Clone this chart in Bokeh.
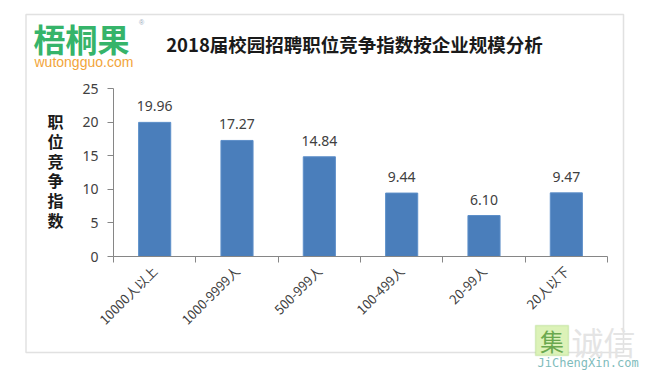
import math
from bokeh.plotting import figure
from bokeh.models import (ColumnDataSource, Range1d, FixedTicker, LinearAxis,
                          Label, LabelSet, BoxAnnotation)
from bokeh.core.properties import value
from bokeh.embed import file_html
from bokeh.resources import INLINE

categories = ["10000人以上", "1000-9999人", "500-999人", "100-499人", "20-99人", "20人以下"]
values = [19.96, 17.27, 14.84, 9.44, 6.10, 9.47]
value_labels = ["19.96", "17.27", "14.84", "9.44", "6.10", "9.47"]
y_ticks = [0, 5, 10, 15, 20, 25]
title_text = "2018届校园招聘职位竞争指数按企业规模分析"
y_title = "职位竞争指数"

W, H = 650, 371
n = len(categories)
centers = [i + 0.5 for i in range(n)]
bounds = [float(i) for i in range(n + 1)]

# pixel geometry of the plotting area inside the canvas
ax_left, ax_right = 113.0, 607.0     # x of category 0 / n boundaries
ax_top, ax_bottom = 88.0, 256.0      # y of value 25 / 0
xs = (ax_right - ax_left) / n
ys = (ax_bottom - ax_top) / 25.0
x_rng = Range1d(-ax_left / xs, n + (W - ax_right) / xs)
y_rng = Range1d(-(H - ax_bottom) / ys, ax_bottom / ys)

src = ColumnDataSource(dict(x=centers, top=values, lab=value_labels))

p = figure(width=W, height=H, output_backend="svg", toolbar_location=None,
           x_range=x_rng, y_range=y_rng, min_border=0,
           x_axis_location=None, y_axis_location=None)
p.outline_line_color = None
p.xgrid.visible = False
p.ygrid.visible = False
p.background_fill_color = "white"
p.border_fill_color = "white"

p.vbar(x="x", top="top", width=0.39, bottom=0, source=src,
       fill_color="#4a7ebb", line_color="#5d8fc9", line_width=1)

axis_color = "#868686"
label_color = "#404040"

yax = LinearAxis(ticker=FixedTicker(ticks=y_ticks, minor_ticks=[]),
                 fixed_location=0, bounds=(0, 25))
yax.axis_line_color = axis_color
yax.major_tick_line_color = axis_color
yax.major_tick_out = 6
yax.major_tick_in = 0
yax.minor_tick_line_color = None
yax.major_label_standoff = 9
yax.major_label_text_font = "Noto Sans"
yax.major_label_text_font_size = "14px"
yax.major_label_text_color = label_color
p.add_layout(yax, "left")

xax = LinearAxis(ticker=FixedTicker(ticks=centers, minor_ticks=bounds),
                 fixed_location=0, bounds=(0, n))
xax.axis_line_color = axis_color
xax.major_tick_line_color = None
xax.major_tick_out = 0
xax.major_tick_in = 0
xax.minor_tick_line_color = axis_color
xax.minor_tick_out = 6
xax.minor_tick_in = 0
xax.major_label_overrides = {c: cat for c, cat in zip(centers, categories)}
xax.major_label_orientation = math.pi / 4
xax.major_label_standoff = 6
xax.major_label_text_font = "Noto Sans CJK SC"
xax.major_label_text_font_size = "13px"
xax.major_label_text_color = label_color
p.add_layout(xax, "below")

p.add_layout(LabelSet(x="x", y="top", text="lab", source=src, y_offset=16,
                      text_align="center", text_baseline="middle",
                      text_font=value("Noto Sans"), text_font_size="14px",
                      text_color=label_color))


def sy(y):
    return H - y


# outer chart border
p.add_layout(BoxAnnotation(left=25.5, right=623, top=sy(14), bottom=sy(352),
                           left_units="screen", right_units="screen",
                           top_units="screen", bottom_units="screen",
                           fill_alpha=0, line_color="#9a9a9a", line_width=1.5))

# title
p.add_layout(Label(x=354, y=sy(43), x_units="screen", y_units="screen",
                   text=title_text, text_align="center", text_baseline="middle",
                   text_font="Noto Sans CJK SC", text_font_style="bold",
                   text_font_size="18.5px", text_color="#1a1a1a"))

# y axis title (stacked characters)
p.add_layout(Label(x=55, y=sy(170), x_units="screen", y_units="screen",
                   text="\n".join(list(y_title)), text_align="center",
                   text_baseline="middle", text_line_height=0.82,
                   text_font="Noto Sans CJK SC", text_font_style="bold",
                   text_font_size="16px", text_color="#1a1a1a"))

# logo
p.add_layout(Label(x=33, y=sy(37), x_units="screen", y_units="screen",
                   text="梧桐果", text_align="left", text_baseline="middle",
                   text_font="Noto Sans CJK SC", text_font_style="bold",
                   text_font_size="32px", text_color="#36b46a"))
p.add_layout(Label(x=141, y=sy(22), x_units="screen", y_units="screen",
                   text="®", text_align="center", text_baseline="middle",
                   text_font="Liberation Sans", text_font_size="7px",
                   text_color="#99aabb"))
p.add_layout(Label(x=34, y=sy(61), x_units="screen", y_units="screen",
                   text="wutongguo.com", text_align="left", text_baseline="middle",
                   text_font="Liberation Sans", text_font_size="14px",
                   text_color="#f2a53a"))

# watermark
p.add_layout(BoxAnnotation(left=535, right=568, top=sy(325), bottom=sy(355),
                           left_units="screen", right_units="screen",
                           top_units="screen", bottom_units="screen",
                           fill_color="#dcf2b8", fill_alpha=1,
                           line_color="#9ccc6a", line_width=1.5))
p.add_layout(Label(x=551.5, y=sy(340), x_units="screen", y_units="screen",
                   text="集", text_align="center", text_baseline="middle",
                   text_font="Noto Sans CJK SC", text_font_size="24px",
                   text_color="#6aa84f"))
p.add_layout(Label(x=571, y=sy(340), x_units="screen", y_units="screen",
                   text="诚信", text_align="left", text_baseline="middle",
                   text_font="Noto Sans CJK SC", text_font_size="32px",
                   text_color="#e4e4e4"))
p.add_layout(Label(x=537, y=sy(362), x_units="screen", y_units="screen",
                   text="JiChengXin.com", text_align="left", text_baseline="middle",
                   text_font="DejaVu Sans Mono", text_font_size="12px",
                   text_color="#7fbcbc"))

open("out.html", "w").write(file_html(p, INLINE))
